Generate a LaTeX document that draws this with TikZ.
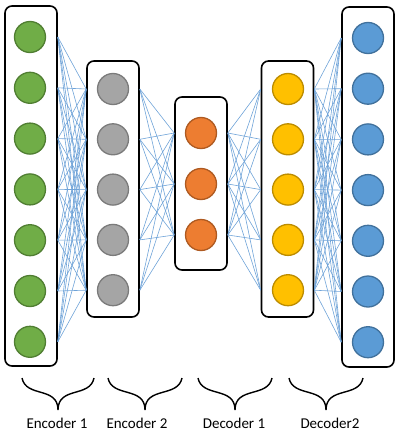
\documentclass[tikz,border=0pt]{standalone}
\usepackage{fontspec}
\setmainfont{Carlito}
\usetikzlibrary{calc}
\definecolor{greenfill}{HTML}{70AD47}
\definecolor{greenline}{HTML}{507E32}
\definecolor{grayfill}{HTML}{A5A5A5}
\definecolor{grayline}{HTML}{7B7B7B}
\definecolor{orangefill}{HTML}{ED7D31}
\definecolor{orangeline}{HTML}{AE5A21}
\definecolor{yellowfill}{HTML}{FFC000}
\definecolor{yellowline}{HTML}{BC8C00}
\definecolor{bluefill}{HTML}{5B9BD5}
\definecolor{blueline}{HTML}{41719C}
\definecolor{linkblue}{HTML}{6FA3D8}
\tikzset{
  layer/.style={draw, line width=1.6pt, rounded corners=7pt, minimum width=52pt, inner sep=0pt},
  unit/.style={circle, draw, line width=1.3pt, minimum size=31pt, inner sep=0pt},
  link/.style={draw=linkblue, line width=0.6pt},
  bracket/.style={line width=1.4pt},
  caption/.style={font=\fontsize{15}{18}\selectfont}
}

\begin{document}
\begin{tikzpicture}[x=1pt,y=-1pt]
  \useasboundingbox (0,0) rectangle (405,447);
  % layers
  \node[layer, minimum height=360pt] (L1) at (31,186)   {};
  \node[layer, minimum height=256pt] (L2) at (113,189)  {};
  \node[layer, minimum height=173pt] (L3) at (201,183.5) {};
  \node[layer, minimum height=256pt] (L4) at (287.5,189) {};
  \node[layer, minimum height=360pt] (L5) at (368,187)  {};
  % units
  \foreach \i in {1,...,7}
    \node[unit, fill=greenfill, draw=greenline] (g\i) at (30,{37+50.8*(\i-1)}) {};
  \foreach \i in {1,...,5}
    \node[unit, fill=grayfill, draw=grayline] (k\i) at (113,{89+50.3*(\i-1)}) {};
  \foreach \i in {1,...,3}
    \node[unit, fill=orangefill, draw=orangeline] (o\i) at (201,{133+51*(\i-1)}) {};
  \foreach \i in {1,...,5}
    \node[unit, fill=yellowfill, draw=yellowline] (y\i) at (288,{89+50.3*(\i-1)}) {};
  \foreach \i in {1,...,7}
    \node[unit, fill=bluefill, draw=blueline] (b\i) at (368,{38+50.7*(\i-1)}) {};
  % links
  \foreach \i in {1,...,7}
    \foreach \j in {1,...,5}
      \draw[link] (g\i -| L1.east) -- (k\j -| L2.west);
  \foreach \i in {1,...,5}
    \foreach \j in {1,...,3}
      \draw[link] (k\i -| L2.east) -- (o\j -| L3.west);
  \foreach \i in {1,...,3}
    \foreach \j in {1,...,5}
      \draw[link] (o\i -| L3.east) -- (y\j -| L4.west);
  \foreach \i in {1,...,5}
    \foreach \j in {1,...,7}
      \draw[link] (y\i -| L4.east) -- (b\j -| L5.west);
  % braces and captions
  \foreach \l/\m/\r in {22/58/94, 108/145/182, 198/235/272, 289/326/363}
    \draw[bracket] (\l,378) .. controls (\l+4,398) and (\m,386) .. (\m,410)
                   .. controls (\m,386) and (\r-4,398) .. (\r,378);
  \node[caption] (enc1) at (57,423)  {Encoder 1};
  \node[caption] (enc2) at (137,423) {Encoder 2};
  \node[caption] (dec1) at (234,423) {Decoder 1};
  \node[caption] (dec2) at (330,423) {Decoder2};
\end{tikzpicture}
\end{document}
